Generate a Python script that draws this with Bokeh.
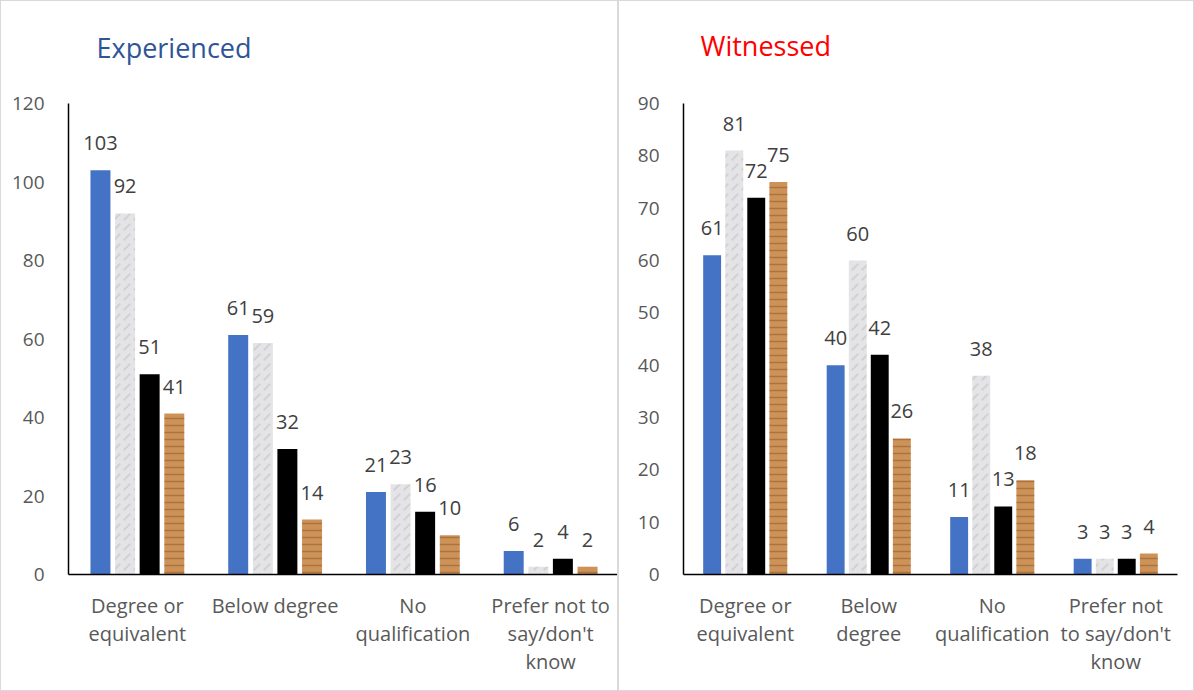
from bokeh.plotting import figure
from bokeh.models import FactorRange, Range1d, FixedTicker, ColumnDataSource, Title
from bokeh.transform import dodge
from bokeh.layouts import row
from bokeh.core.properties import value
from bokeh.embed import file_html
from bokeh.resources import INLINE

categories = ["Degree or equivalent", "Below degree", "No qualification",
              "Prefer not to say/don't know"]

exp_s1 = [103, 61, 21, 6]
exp_s2 = [92, 59, 23, 2]
exp_s3 = [51, 32, 16, 4]
exp_s4 = [41, 14, 10, 2]

wit_s1 = [61, 40, 11, 3]
wit_s2 = [81, 60, 38, 3]
wit_s3 = [72, 42, 13, 3]
wit_s4 = [75, 26, 18, 4]

exp_ticks = [0, 20, 40, 60, 80, 100, 120]
wit_ticks = [0, 10, 20, 30, 40, 50, 60, 70, 80, 90]

# category labels as wrapped in each panel
exp_cat_labels = ["Degree or\nequivalent", "Below degree", "No\nqualification",
                  "Prefer not to\nsay/don't\nknow"]
wit_cat_labels = ["Degree or\nequivalent", "Below\ndegree", "No\nqualification",
                  "Prefer not\nto say/don't\nknow"]

FONT = "Open Sans"

STYLES = [
    dict(fill_color="#4472C4", line_color=None),
    dict(fill_color="#E4E4E6", line_color=None, hatch_pattern="right_diagonal_dash",
         hatch_color="#B0B0B4", hatch_alpha=0.35, hatch_scale=10, hatch_weight=2),
    dict(fill_color="#000000", line_color=None),
    dict(fill_color="#CD9258", line_color=None, hatch_pattern="horizontal_line",
         hatch_color="#8A5428", hatch_alpha=0.5, hatch_scale=7, hatch_weight=1.5),
]
OFFSETS = [-0.268, -0.089, 0.089, 0.268]


def make_panel(title, title_color, series, ticks, cat_labels, width,
               mb_left, mb_right, mb_top, mb_bottom, title_offset, spacer_px):
    p = figure(x_range=FactorRange(*cat_labels), y_range=Range1d(0, ticks[-1]),
               width=width, height=691, output_backend="svg", toolbar_location=None,
               min_border_left=mb_left, min_border_right=mb_right,
               min_border_top=mb_top, min_border_bottom=mb_bottom,
               outline_line_color=None, background_fill_color="white",
               border_fill_color="white", title=None,
               styles={"border": "1px solid #D9D9D9", "box-sizing": "border-box"})

    # blank spacer between the frame and the title
    p.add_layout(Title(text=" ", text_font_size=f"{spacer_px}px", standoff=0), "above")
    p.add_layout(Title(text=title, text_color=title_color, text_font=FONT,
                       text_font_size="27px", text_font_style="normal",
                       align="left", offset=title_offset, standoff=10), "above")

    data = {"cat": cat_labels, "name": categories}
    for i, s in enumerate(series):
        data[f"s{i}"] = s
        data[f"t{i}"] = [str(v) for v in s]
    src = ColumnDataSource(data)

    for i in range(4):
        xd = dodge("cat", OFFSETS[i], range=p.x_range)
        p.vbar(x=xd, top=f"s{i}", width=0.145, source=src, **STYLES[i])
        p.text(x=xd, y=f"s{i}", text=f"t{i}", source=src, text_align="center",
               text_baseline="bottom", y_offset=-20, text_color="#404040",
               text_font=value(FONT), text_font_size="20px")

    p.xgrid.visible = False
    p.ygrid.visible = False
    p.yaxis.ticker = FixedTicker(ticks=ticks)
    p.yaxis.axis_line_color = "black"
    p.yaxis.axis_line_width = 1.5
    p.yaxis.major_tick_line_color = None
    p.yaxis.minor_tick_line_color = None
    p.yaxis.major_label_standoff = 18
    p.yaxis.major_label_text_font = FONT
    p.yaxis.major_label_text_font_size = "19px"
    p.yaxis.major_label_text_color = "#595959"

    p.xaxis.axis_line_color = "black"
    p.xaxis.axis_line_width = 1.5
    p.xaxis.major_tick_line_color = None
    p.xaxis.minor_tick_line_color = None
    p.xaxis.major_label_standoff = 11
    p.xaxis.major_label_text_font = FONT
    p.xaxis.major_label_text_font_size = "20px"
    p.xaxis.major_label_text_color = "#595959"
    p.xaxis.major_label_text_line_height = 1.05
    p.x_range.range_padding = 0
    p.x_range.group_padding = 0
    return p


p1 = make_panel("Experienced", "#2F5597", [exp_s1, exp_s2, exp_s3, exp_s4],
                exp_ticks, exp_cat_labels, 618, 67, 0, 102, 118, 28, 28)
p2 = make_panel("Witnessed", "#FF0000", [wit_s1, wit_s2, wit_s3, wit_s4],
                wit_ticks, wit_cat_labels, 576, 64, 18, 96, 116, 17, 30)

layout = row(p1, p2)
open("out.html", "w").write(file_html(layout, INLINE))
